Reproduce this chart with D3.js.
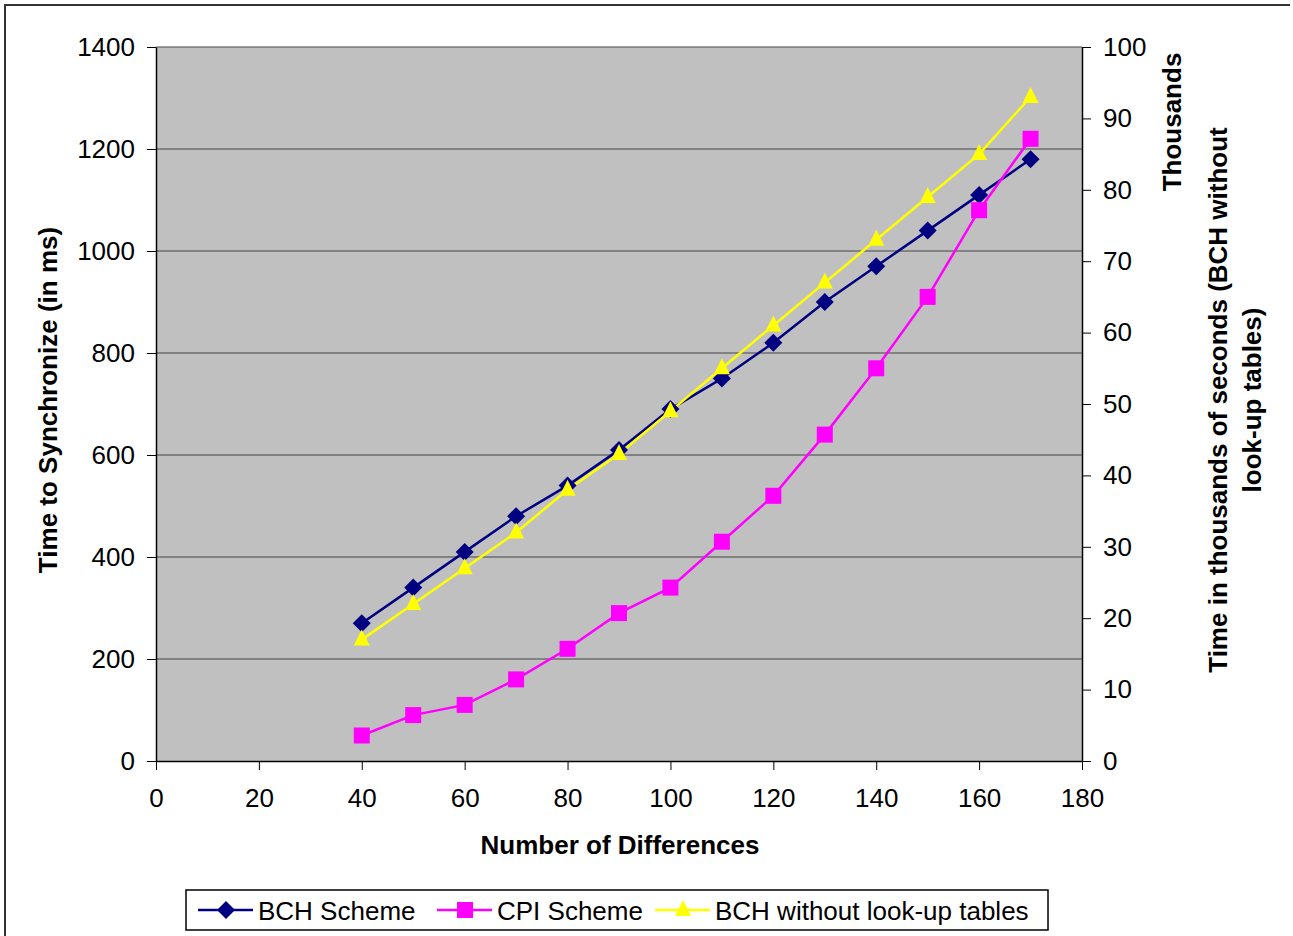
<!DOCTYPE html>
<html><head><meta charset="utf-8">
<script src="https://cdn.jsdelivr.net/npm/d3@7"></script>
<style>body{margin:0;background:#fff}svg{display:block}text{font-family:"Liberation Sans",Arial,sans-serif}</style>
</head><body><svg id="c" width="1293" height="936"></svg>
<script>
const diffs = [40,50,60,70,80,90,100,110,120,130,140,150,160,170];
const bchScheme = [270,340,410,480,540,610,690,750,820,900,970,1040,1110,1180];
const cpiScheme = [50,90,110,160,220,290,340,430,520,640,770,910,1080,1220];
const bchNoLookup = [17,22,27,32,38,43,49,55,61,67,73,79,85,93]; // thousands (right axis)
const xTicks = [0,20,40,60,80,100,120,140,160,180];
const yLeftTicks = [0,200,400,600,800,1000,1200,1400];
const yRightTicks = [0,10,20,30,40,50,60,70,80,90,100];
const seriesNames = ["BCH Scheme","CPI Scheme","BCH without look-up tables"];
const seriesColors = ["#000080","#ff00ff","#ffff00"];

const svg = d3.select("#c");
const L=156,R=1082,T=47,B=761;
const x = d3.scaleLinear().domain([0,180]).range([L,R]);
const yL = d3.scaleLinear().domain([0,1400]).range([B,T]);
const yR = d3.scaleLinear().domain([0,100]).range([B,T]);

// outer frame
svg.append("path").attr("d",`M5,936 V5 H1290`).attr("fill","none").attr("stroke","#333").attr("stroke-width",2);

svg.append("rect").attr("x",L).attr("y",T).attr("width",R-L).attr("height",B-T).attr("fill","#c0c0c0");
// gridlines
svg.append("g").selectAll("line").data(yLeftTicks.slice(1)).join("line")
  .attr("x1",L).attr("x2",R).attr("y1",d=>yL(d)).attr("y2",d=>yL(d)).attr("stroke","#444").attr("stroke-width",1);

// axes
const fmt = d3.format("d");
const gx = svg.append("g").attr("transform",`translate(0,${B})`).call(d3.axisBottom(x).tickValues(xTicks).tickFormat(fmt).tickSize(9).tickSizeOuter(0).tickPadding(19));
const gl = svg.append("g").attr("transform",`translate(${L},0)`).call(d3.axisLeft(yL).tickValues(yLeftTicks).tickFormat(fmt).tickSize(9).tickSizeOuter(0).tickPadding(12));
const gr = svg.append("g").attr("transform",`translate(${R},0)`).call(d3.axisRight(yR).tickValues(yRightTicks).tickFormat(fmt).tickSize(9).tickSizeOuter(0).tickPadding(12));
[gx,gl,gr].forEach(g=>{
  g.selectAll("path.domain").attr("stroke","#000").attr("stroke-width",1.5);
  g.selectAll(".tick line").attr("stroke","#000");
  g.selectAll(".tick text").attr("font-size",26).attr("fill","#000").attr("font-family","Liberation Sans, Arial, sans-serif");
});

// series
const line = (yS,vals)=>d3.line().x((d,i)=>x(diffs[i])).y(d=>yS(d))(vals);
const data = [[yL,bchScheme],[yL,cpiScheme],[yR,bchNoLookup]];
data.forEach(([ys,vals],k)=>{
  svg.append("path").attr("d",line(ys,vals)).attr("fill","none").attr("stroke",seriesColors[k]).attr("stroke-width",2.5);
});
function marker(g,k,cx,cy){
  if(k===0) g.append("path").attr("d",`M${cx},${cy-9} L${cx+9},${cy} L${cx},${cy+9} L${cx-9},${cy} Z`).attr("fill",seriesColors[0]);
  else if(k===1) g.append("rect").attr("x",cx-8).attr("y",cy-8).attr("width",16).attr("height",16).attr("fill",seriesColors[1]);
  else g.append("path").attr("d",`M${cx},${cy-10} L${cx+8},${cy+6} L${cx-8},${cy+6} Z`).attr("fill",seriesColors[2]);
}
const mg = svg.append("g");
data.forEach(([ys,vals],k)=>vals.forEach((v,i)=>marker(mg,k,x(diffs[i]),ys(v))));

// titles
svg.append("text").attr("x",620).attr("y",854).attr("text-anchor","middle").attr("font-size",26).attr("font-weight","bold").text("Number of Differences");
svg.append("text").attr("transform",`translate(57,400) rotate(-90)`).attr("text-anchor","middle").attr("font-size",26).attr("font-weight","bold").text("Time to Synchronize (in ms)");
svg.append("text").attr("transform",`translate(1181,122) rotate(-90)`).attr("text-anchor","middle").attr("font-size",26).attr("font-weight","bold").text("Thousands");
const rt = svg.append("text").attr("transform",`translate(1227,400) rotate(-90)`).attr("text-anchor","middle").attr("font-size",26).attr("font-weight","bold");
rt.append("tspan").attr("x",0).attr("dy",0).text("Time in thousands of seconds (BCH without");
rt.append("tspan").attr("x",0).attr("dy",34).text("look-up tables)");

// legend
const lg = svg.append("g");
lg.append("rect").attr("x",186).attr("y",890).attr("width",862).attr("height",40).attr("fill","#fff").attr("stroke","#000").attr("stroke-width",1.5);
const lx=[198,437,655];
seriesNames.forEach((n,k)=>{
  lg.append("line").attr("x1",lx[k]).attr("x2",lx[k]+55).attr("y1",910).attr("y2",910).attr("stroke",seriesColors[k]).attr("stroke-width",2.5);
  marker(lg,k,lx[k]+28,910);
  lg.append("text").attr("x",lx[k]+60).attr("y",920).attr("font-size",26).text(n);
});
</script></body></html>
